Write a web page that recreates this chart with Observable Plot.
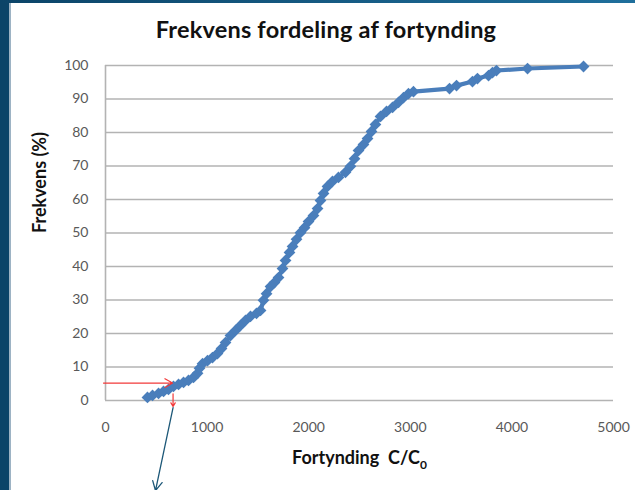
<!DOCTYPE html>
<html>
<head>
<meta charset="utf-8">
<script src="https://cdn.jsdelivr.net/npm/d3@7"></script>
<script src="https://cdn.jsdelivr.net/npm/@observablehq/plot@0.6"></script>
<style>
  html, body { margin: 0; padding: 0; background: #fff; }
  body { width: 635px; height: 490px; position: relative; overflow: hidden; font-family: Lato, "Open Sans", sans-serif; }
  #stripL { position: absolute; left: 0; top: 0; width: 9px; height: 490px; background: #0b4468; z-index: 3; }
  #stripL2 { position: absolute; left: 9px; top: 0; width: 2px; height: 490px; background: #9db3c4; z-index: 3; }
  #stripT { position: absolute; left: 0; top: 0; width: 635px; height: 3px; background: linear-gradient(to right, #0b4468, #1f6f9c); z-index: 3; }
  #title { position: absolute; left: 0; top: 15px; width: 652px; text-align: center; font-weight: 700; font-size: 23.5px; line-height: 28px; letter-spacing: 0.2px; color: #111; }
  #chart { position: absolute; left: 0; top: 45px; }
</style>
</head>
<body>
<div id="stripL"></div><div id="stripL2"></div><div id="stripT"></div>
<div id="title"></div>
<div id="chart"></div>
<script>
// ---- data ----
const title = "Frekvens fordeling af fortynding";
const xTitle = "Fortynding  C/C";
const xTitleSub = "0";
const yTitle = "Frekvens (%)";
const xTicks = [0, 1000, 2000, 3000, 4000, 5000];
const yTicks = [0, 10, 20, 30, 40, 50, 60, 70, 80, 90, 100];

const dilution = [413, 463, 522, 571, 620, 669, 719, 768, 817, 866, 906, 925, 955, 1004, 1053, 1102, 1142, 1181, 1230, 1280,
  1329, 1378, 1427, 1486, 1526, 1555, 1585, 1624, 1663, 1703, 1742, 1772, 1811, 1841, 1880, 1919, 1959, 1998, 2047, 2087,
  2116, 2146, 2185, 2234, 2293, 2362, 2411, 2451, 2490, 2539, 2579, 2618, 2657, 2707, 2766, 2825, 2884, 2933, 2982, 3031,
  3386, 3455, 3612, 3661, 3770, 3809, 3848, 4154, 4705];
const frequency = [0.9, 1.5, 2.1, 2.7, 3.3, 4.2, 4.8, 5.4, 6.0, 6.9, 8.1, 9.6, 11.0, 11.9, 12.8, 14.0, 15.5, 17.3, 19.4, 20.9,
  22.4, 23.9, 25.1, 26.0, 26.9, 29.9, 31.9, 34.0, 35.2, 36.7, 39.4, 41.8, 44.2, 46.0, 48.1, 50.1, 51.6, 53.4, 55.2, 57.3,
  59.7, 61.8, 63.9, 65.4, 66.6, 68.1, 69.9, 72.2, 74.6, 76.4, 78.2, 80.3, 82.4, 84.8, 86.3, 87.5, 89.0, 90.4, 91.6, 92.2,
  93.1, 94.0, 95.2, 96.1, 97.0, 97.9, 98.5, 99.1, 99.7];

// annotation arrows (data units)
const readLevel = 5.2;      // red horizontal reading line at 5 %
const readValue = 665;
const arrowsRed = [
  {x1: -20, y1: readLevel, x2: readValue - 5, y2: readLevel},
  {x1: readValue, y1: 2.0, x2: readValue, y2: -1.8}
];
const arrowsBlue = [{x1: readValue, y1: -2.1, x2: 492, y2: -26.9}];

const data = dilution.map((d, i) => ({x: d, y: frequency[i]}));

document.getElementById("title").textContent = title;

const blue = "#4a7ebb";
const grid = "#b3b3b3";
const font = "Lato, 'Open Sans', sans-serif";

const chart = Plot.plot({
  width: 635,
  height: 445,
  marginTop: 20,
  marginBottom: 90,
  marginLeft: 105,
  marginRight: 22,
  style: {fontFamily: font, fontSize: "14px", color: "#595959", background: "transparent", overflow: "visible"},
  x: {domain: [0, 5000], ticks: xTicks, tickSize: 0, tickPadding: 22, label: null, tickFormat: d => String(d)},
  y: {domain: [0, 100], ticks: yTicks, tickSize: 0, tickPadding: 17, label: null},
  marks: [
    Plot.ruleY(yTicks, {stroke: grid, strokeWidth: 1.6, strokeOpacity: 1}),
    Plot.ruleX([0], {y1: 0, y2: 100, stroke: grid, strokeWidth: 1.6}),
    Plot.line(data, {x: "x", y: "y", stroke: blue, strokeWidth: 4.2}),
    Plot.dot(data, {x: "x", y: "y", symbol: "diamond2", r: 5.3, fill: blue, stroke: null}),
    Plot.arrow(arrowsRed, {x1: "x1", y1: "y1", x2: "x2", y2: "y2", stroke: "#f23a3a", strokeWidth: 1.2, headLength: 11, headAngle: 60, clip: false}),
    Plot.arrow(arrowsBlue, {x1: "x1", y1: "y1", x2: "x2", y2: "y2", stroke: "#1d5878", strokeWidth: 1.3, headLength: 12, headAngle: 55, clip: false}),
    Plot.text([yTitle], {frameAnchor: "left", dx: -65, rotate: -90, fontWeight: "bold", fontSize: 18, fill: "#111", text: d => d}),
    Plot.text([xTitle], {frameAnchor: "bottom", dy: 63, fontWeight: "bold", fontSize: 18, fill: "#111", text: d => d})
  ]
});
document.getElementById("chart").appendChild(chart);

// add subscript 0 to the x-axis title
d3.select(chart).selectAll("text").filter(function () { return this.textContent === xTitle; })
  .append("tspan").attr("font-size", "12px").attr("dy", "5").text(xTitleSub);
</script>
</body>
</html>
